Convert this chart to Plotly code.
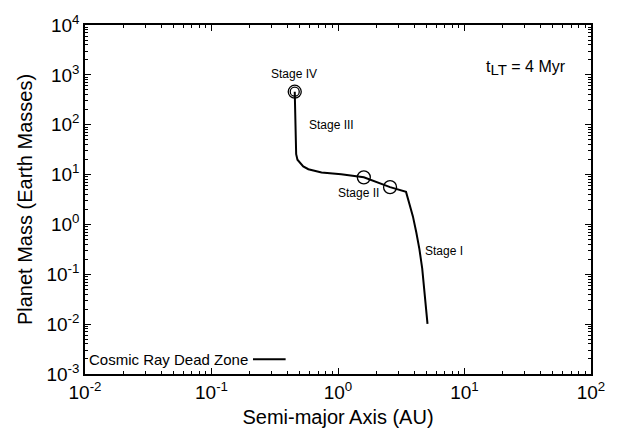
import plotly.graph_objects as go

# Planet formation track (semi-major axis in AU, mass in Earth masses)
track_a = [0.455, 0.46, 0.467, 0.478, 0.504, 0.531, 0.583, 0.635, 0.741, 1.06, 1.60, 2.58, 3.45,
           3.67, 3.91, 4.16, 4.40, 4.63, 4.81, 4.97, 5.10]
track_m = [459, 113, 25.6, 19.9, 17.3, 14.6, 12.8, 12.1, 11.0, 10.2, 8.8, 5.6, 4.5,
           2.56, 1.45, 0.69, 0.32, 0.131, 0.053, 0.0235, 0.0101]

# Stage markers
stage_a = [1.60, 2.58, 0.455]
stage_m = [8.8, 5.6, 459]

# Stage labels (log10 positions)
label_text = ["Stage IV", "Stage III", "Stage II", "Stage I"]
label_loga = [-0.350, -0.053, 0.159, 0.837]
label_logm = [3.02, 2.0, 0.638, -0.532]

x_tickvals = [0.01, 0.1, 1, 10, 100]
x_ticktext = ["10<sup>-2</sup>", "10<sup>-1</sup>", "10<sup>0</sup>", "10<sup>1</sup>", "10<sup>2</sup>"]
y_tickvals = [1e-3, 1e-2, 1e-1, 1, 10, 100, 1000, 10000]
y_ticktext = ["10<sup>-3</sup>", "10<sup>-2</sup>", "10<sup>-1</sup>", "10<sup>0</sup>",
              "10<sup>1</sup>", "10<sup>2</sup>", "10<sup>3</sup>", "10<sup>4</sup>"]

minor_mult = [2, 3, 4, 5, 6, 7, 8, 9]
x_minor = [m * d for d in x_tickvals[:-1] for m in minor_mult]
y_minor = [m * d for d in y_tickvals[:-1] for m in minor_mult]

FONT = "Liberation Sans, Arial, Helvetica, sans-serif"

fig = go.Figure()
fig.add_trace(go.Scatter(x=track_a, y=track_m, mode="lines",
                         line=dict(color="black", width=2), showlegend=False))
fig.add_trace(go.Scatter(x=stage_a, y=stage_m, mode="markers",
                         marker=dict(symbol="circle-open", size=13, color="black",
                                     line=dict(width=1.3, color="black")),
                         showlegend=False))
fig.add_trace(go.Scatter(x=stage_a[2:], y=stage_m[2:], mode="markers",
                         marker=dict(symbol="circle-open", size=9, color="black",
                                     line=dict(width=1.3, color="black")),
                         showlegend=False))

annotations = []
for t, xa, ym in zip(label_text, label_loga, label_logm):
    annotations.append(dict(x=xa, y=ym, xref="x", yref="y", text=t, showarrow=False,
                            font=dict(family=FONT, size=12, color="black"),
                            xanchor="center", yanchor="middle"))
annotations.append(dict(x=1.488, y=3.13, xref="x", yref="y",
                        text="t<sub><span style='font-size:15px'>LT</span></sub> = 4 Myr",
                        showarrow=False, font=dict(family=FONT, size=16, color="black"),
                        xanchor="center", yanchor="middle"))
annotations.append(dict(x=0.003, y=0.042, xref="paper", yref="paper",
                        text="Cosmic Ray Dead Zone", showarrow=False,
                        font=dict(family=FONT, size=15, color="black"),
                        xanchor="left", yanchor="middle"))

axis_common = dict(type="log", showgrid=False, zeroline=False, showline=True,
                   linecolor="black", linewidth=1.5, mirror="allticks",
                   ticks="inside", ticklen=6, tickwidth=1, tickcolor="black",
                   tickfont=dict(family=FONT, size=19, color="black"))

fig.update_layout(
    width=617, height=437,
    margin=dict(l=85, r=15, t=21, b=59),
    plot_bgcolor="white", paper_bgcolor="white",
    xaxis=dict(range=[-2, 2], tickvals=x_tickvals, ticktext=x_ticktext,
               minor=dict(tickmode="array", tickvals=x_minor, ticks="inside", ticklen=3,
                          tickwidth=1, tickcolor="black", showgrid=False),
               title=dict(text="Semi-major Axis (AU)", font=dict(family=FONT, size=20, color="black"), standoff=8),
               **axis_common),
    yaxis=dict(range=[-3, 4], tickvals=y_tickvals, ticktext=y_ticktext,
               minor=dict(tickmode="array", tickvals=y_minor, ticks="inside", ticklen=3,
                          tickwidth=1, tickcolor="black", showgrid=False),
               title=dict(text="Planet Mass (Earth Masses)", font=dict(family=FONT, size=20, color="black"), standoff=8),
               **axis_common),
    annotations=annotations,
    shapes=[dict(type="line", xref="paper", yref="paper", x0=0.332, x1=0.3965, y0=0.042, y1=0.042,
                 line=dict(color="black", width=2))],
    showlegend=False,
)

fig.write_html("out.html")
